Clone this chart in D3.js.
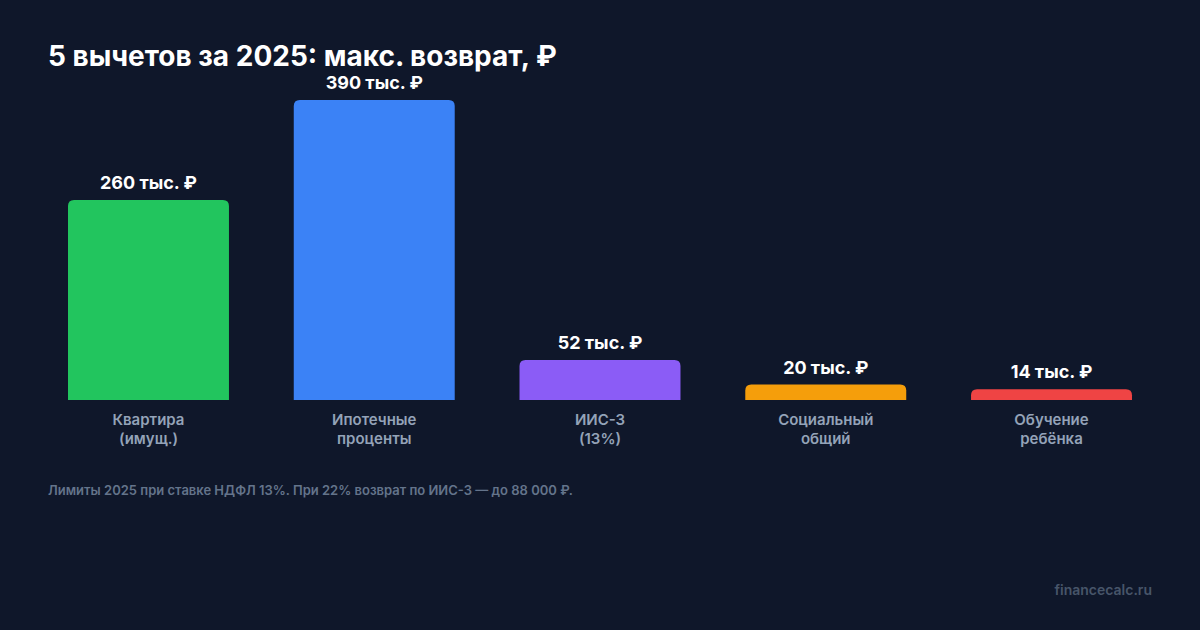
<!DOCTYPE html>
<html><head><meta charset="utf-8">
<script src="https://cdn.jsdelivr.net/npm/d3@7"></script>
<style>
html,body{margin:0;padding:0;background:#0f172a;}
svg{display:block;font-family:Inter,"Noto Sans",sans-serif;}
</style></head>
<body>
<svg id="c" width="1200" height="630"></svg>
<script>
const categories = [["Квартира","(имущ.)"],["Ипотечные","проценты"],["ИИС-3","(13%)"],["Социальный","общий"],["Обучение","ребёнка"]];
const values = [260, 390, 52, 20, 14];
const valueLabels = ["260 тыс. ₽","390 тыс. ₽","52 тыс. ₽","20 тыс. ₽","14 тыс. ₽"];
const colors = ["#22c55e","#3b82f6","#8b5cf6","#f59e0b","#ef4444"];
const title = "5 вычетов за 2025: макс. возврат, ₽";
const footnote = "Лимиты 2025 при ставке НДФЛ 13%. При 22% возврат по ИИС-3 — до 88 000 ₽.";
const watermark = "financecalc.ru";

const svg = d3.select("#c");
svg.append("rect").attr("width",1200).attr("height",630).attr("fill","#0f172a");

const x = d3.scaleBand().domain(d3.range(values.length)).range([48,1152]).paddingInner(0.287).paddingOuter(0.0886);
const y = d3.scaleLinear().domain([0,390]).range([400,100]);
const r = 6;

function barPath(x0,w,yTop,yBot){
  const rr = Math.min(r, (yBot-yTop), w/2);
  return `M${x0},${yBot}V${yTop+rr}Q${x0},${yTop} ${x0+rr},${yTop}H${x0+w-rr}Q${x0+w},${yTop} ${x0+w},${yTop+rr}V${yBot}Z`;
}

svg.append("text").attr("x",48).attr("y",66).attr("fill","#ffffff")
  .attr("font-size",28).attr("font-weight",700).text(title);

const g = svg.append("g");
values.forEach((v,i)=>{
  g.append("path").attr("d",barPath(x(i),x.bandwidth(),y(v),y(0))).attr("fill",colors[i]);
  g.append("text").attr("x",x(i)+x.bandwidth()/2).attr("y",y(v)-11)
    .attr("text-anchor","middle").attr("fill","#ffffff").attr("font-size",18).attr("font-weight",700)
    .text(valueLabels[i]);
  const t = g.append("text").attr("text-anchor","middle").attr("fill","#94a3b8")
    .attr("font-size",15).attr("font-weight",600);
  categories[i].forEach((line,j)=>{
    t.append("tspan").attr("x",x(i)+x.bandwidth()/2).attr("y",425+j*19).text(line);
  });
});

svg.append("text").attr("x",48).attr("y",495).attr("fill","#64748b")
  .attr("font-size",13).attr("font-weight",600).text(footnote);
svg.append("text").attr("x",1152).attr("y",595).attr("text-anchor","end").attr("fill","#475569")
  .attr("font-size",14).attr("font-weight",600).text(watermark);
</script>
</body></html>
